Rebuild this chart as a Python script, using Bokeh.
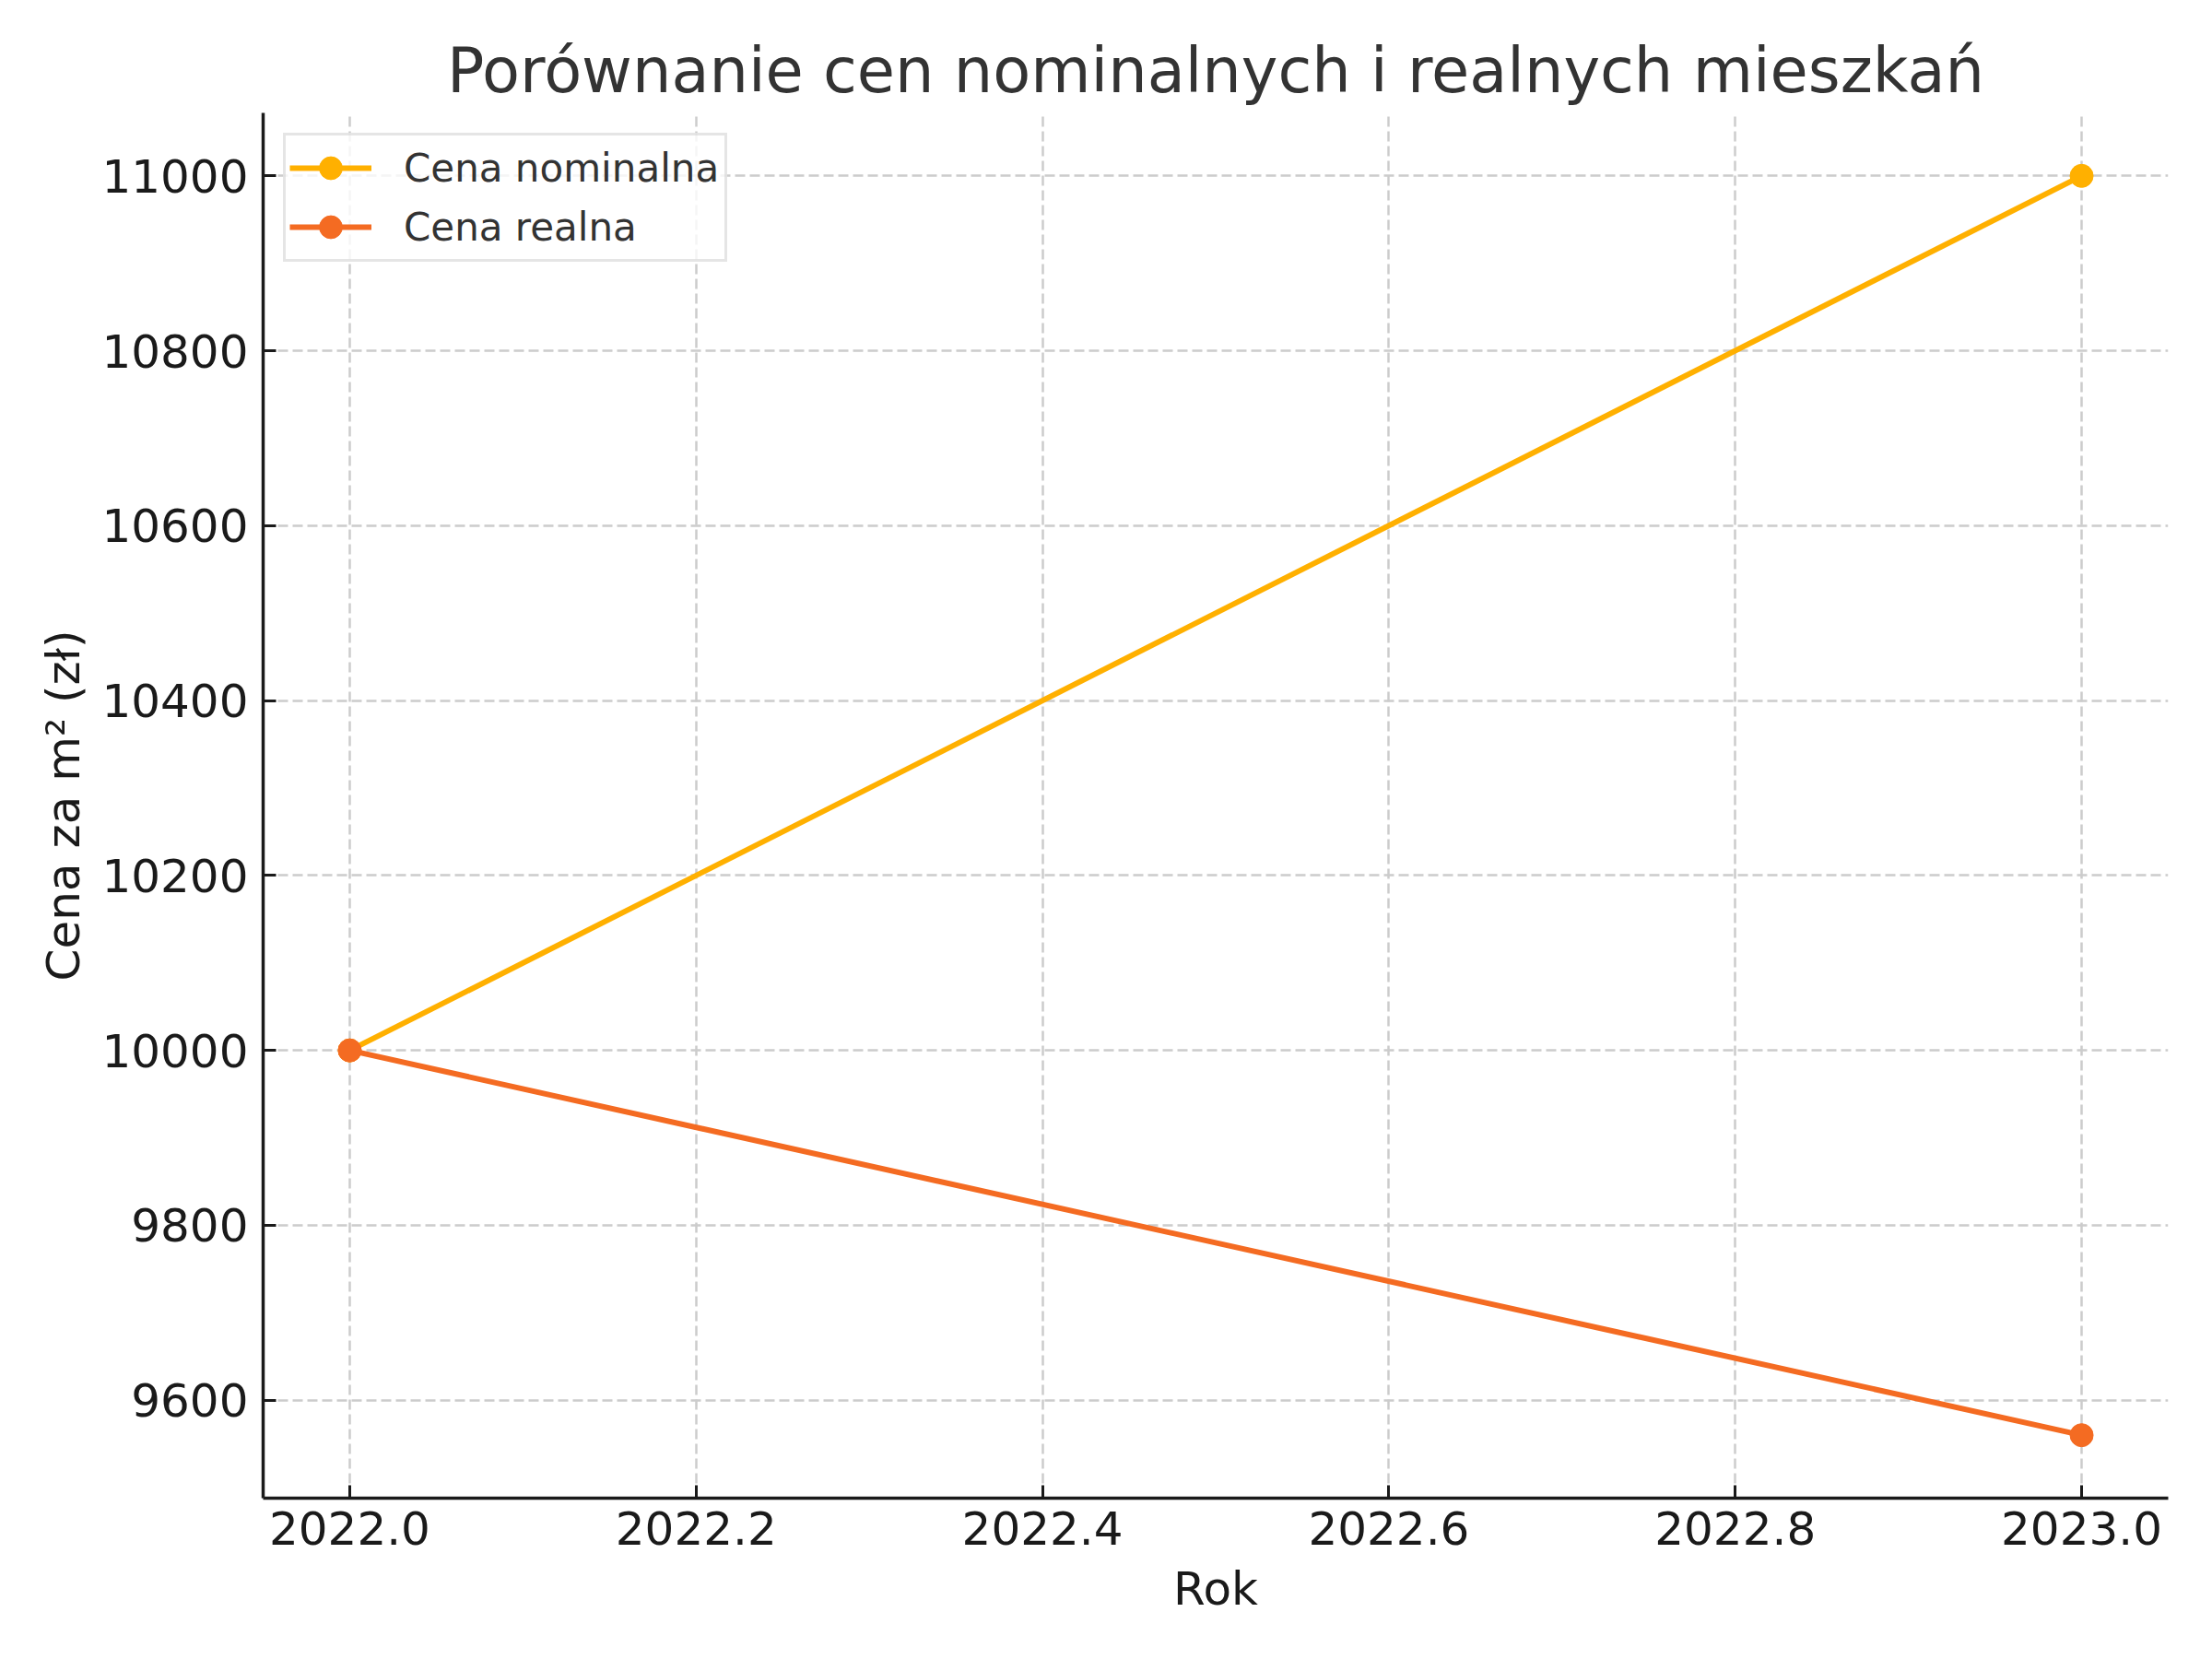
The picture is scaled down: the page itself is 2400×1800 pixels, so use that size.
from bokeh.plotting import figure
from bokeh.models import Range1d, FixedTicker, PrintfTickFormatter, Legend, LegendItem
from bokeh.embed import file_html
from bokeh.resources import INLINE

# Data
years = [2022, 2023]
nominal = [10000, 11000]
real = [10000, 9560]
series_names = ["Cena nominalna", "Cena realna"]
series_colors = ["#FFB000", "#F46B22"]
x_ticks = [2022.0, 2022.2, 2022.4, 2022.6, 2022.8, 2023.0]
y_ticks = [9600, 9800, 10000, 10200, 10400, 10600, 10800, 11000]
title_text = "Porównanie cen nominalnych i realnych mieszkań"
x_label = "Rok"
y_label = "Cena za m² (zł)"

FONT = "DejaVu Sans"

xmin, xmax = min(years), max(years)
allv = nominal + real
ymin, ymax = min(allv), max(allv)
xpad = (xmax - xmin) * 0.05
ypad = (ymax - ymin) * 0.05

p = figure(width=2384, height=1784, output_backend="svg", toolbar_location=None,
           x_range=Range1d(xmin - xpad, xmax + xpad),
           y_range=Range1d(ymin - ypad, ymax + ypad),
           min_border_left=285, min_border_right=32,
           min_border_top=122, min_border_bottom=159)

p.title.text = title_text
p.title.align = "center"
p.title.text_font = FONT
p.title.text_font_size = "67px"
p.title.text_font_style = "normal"
p.title.text_color = "#333333"
p.title.standoff = 13

p.outline_line_color = None
p.background_fill_color = "white"
p.border_fill_color = "white"

for ax in (p.xaxis[0], p.yaxis[0]):
    ax.axis_line_color = "#1a1a1a"
    ax.axis_line_width = 3.5
    ax.major_tick_line_color = "#1a1a1a"
    ax.major_tick_line_width = 3
    ax.major_tick_in = 14
    ax.major_tick_out = 0
    ax.minor_tick_line_color = None
    ax.major_label_text_font = FONT
    ax.major_label_text_font_size = "50px"
    ax.major_label_text_color = "#1a1a1a"
    ax.axis_label_text_font = FONT
    ax.axis_label_text_font_size = "50px"
    ax.axis_label_text_font_style = "normal"
    ax.axis_label_text_color = "#1a1a1a"

p.xaxis[0].ticker = FixedTicker(ticks=x_ticks)
p.xaxis[0].formatter = PrintfTickFormatter(format="%.1f")
p.xaxis[0].axis_label = x_label
p.xaxis[0].major_label_standoff = 14
p.xaxis[0].axis_label_standoff = 16

p.yaxis[0].ticker = FixedTicker(ticks=y_ticks)
p.yaxis[0].formatter = PrintfTickFormatter(format="%d")
p.yaxis[0].axis_label = y_label
p.yaxis[0].major_label_standoff = 16
p.yaxis[0].axis_label_standoff = 9

for g in (p.xgrid[0], p.ygrid[0]):
    g.grid_line_color = "#cccccc"
    g.grid_line_width = 2.5
    g.grid_line_dash = "11 5"

items = []
for vals, name, col in zip([nominal, real], series_names, series_colors):
    r1 = p.line(years, vals, line_color=col, line_width=6)
    r2 = p.scatter(years, vals, size=25, fill_color=col, line_color=col)
    items.append(LegendItem(label=name, renderers=[r1, r2]))

legend = Legend(items=items, location="top_left", margin=22,
                label_text_font=FONT, label_text_font_size="42px",
                label_text_color="#333333",
                glyph_width=89, glyph_height=62, label_height=42,
                label_width=344,
                label_standoff=35, spacing=2, padding=4,
                border_line_color="#cccccc", border_line_width=3,
                background_fill_color="white", background_fill_alpha=0.8)
p.add_layout(legend)

open("out.html", "w").write(file_html(p, INLINE))
